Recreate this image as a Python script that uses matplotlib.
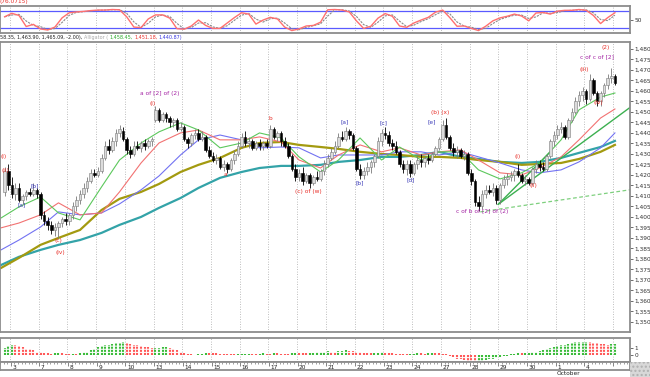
import numpy as np
import matplotlib
matplotlib.use('Agg')
import matplotlib.pyplot as plt
from matplotlib.patches import Rectangle

plt.rcParams['font.family'] = 'DejaVu Sans'

# hourly bars, 8 per session; the first two bars close the previous session
first_bar = -2
opens = [1412, 1422,
         1415, 1411, 1414, 1408, 1410, 1412, 1411, 1413,
         1411, 1401, 1398, 1396, 1394, 1395, 1397, 1399,
         1398, 1401, 1405, 1408, 1411, 1414, 1417, 1421,
         1420, 1422, 1428, 1434, 1432, 1436, 1440, 1441,
         1437, 1432, 1430, 1434, 1433, 1435, 1434, 1436,
         1446, 1451, 1446, 1449, 1447, 1445, 1446, 1442,
         1443, 1437, 1435, 1439, 1440, 1437, 1438, 1432,
         1429, 1427, 1428, 1424, 1425, 1423, 1427, 1430,
         1434, 1438, 1435, 1436, 1433, 1435, 1434, 1435,
         1434, 1442, 1438, 1440, 1436, 1434, 1429, 1423,
         1419, 1421, 1417, 1420, 1416, 1419, 1418, 1422,
         1425, 1428, 1431, 1434, 1438, 1437, 1441, 1439,
         1433, 1423, 1420, 1422, 1424, 1426, 1429, 1436,
         1440, 1439, 1435, 1434, 1431, 1425, 1423, 1425,
         1421, 1425, 1427, 1426, 1428, 1427, 1430, 1433,
         1437, 1444, 1438, 1433, 1431, 1432, 1429, 1430,
         1421, 1417, 1407, 1405, 1411, 1413, 1412, 1414,
         1408, 1415, 1418, 1419, 1420, 1422, 1420, 1417,
         1418, 1416, 1423, 1425, 1424, 1423, 1429, 1436,
         1439, 1442, 1443, 1438, 1446, 1450, 1455, 1458,
         1460, 1456, 1465, 1459, 1455, 1459, 1463, 1466,
         1467]
highs = [1424, 1425,
         1419, 1416, 1416, 1411, 1413, 1414, 1416, 1414,
         1412, 1403, 1400, 1398, 1397, 1398, 1400, 1402,
         1402, 1407, 1410, 1413, 1416, 1419, 1423, 1423,
         1424, 1430, 1436, 1437, 1438, 1442, 1444, 1443,
         1438, 1434, 1436, 1436, 1436, 1437, 1437, 1438,
         1453, 1452, 1450, 1450, 1448, 1447, 1447, 1445,
         1444, 1438, 1440, 1442, 1442, 1441, 1439, 1434,
         1431, 1430, 1429, 1427, 1426, 1428, 1432, 1436,
         1440, 1441, 1438, 1437, 1436, 1437, 1436, 1437,
         1444, 1443, 1441, 1441, 1438, 1435, 1430, 1425,
         1423, 1424, 1421, 1421, 1420, 1422, 1423, 1427,
         1430, 1433, 1436, 1440, 1441, 1443, 1442, 1440,
         1434, 1425, 1424, 1426, 1427, 1430, 1438, 1442,
         1443, 1441, 1437, 1436, 1432, 1427, 1427, 1427,
         1426, 1429, 1430, 1429, 1430, 1431, 1434, 1438,
         1446, 1447, 1439, 1435, 1434, 1433, 1432, 1431,
         1423, 1418, 1410, 1413, 1415, 1415, 1416, 1415,
         1416, 1420, 1421, 1422, 1423, 1425, 1421, 1420,
         1419, 1424, 1427, 1427, 1426, 1430, 1437, 1441,
         1444, 1445, 1444, 1447, 1452, 1457, 1460, 1462,
         1461, 1468, 1466, 1460, 1460, 1464, 1468, 1471,
         1468]
lows = [1410, 1413,
        1409, 1408, 1407, 1406, 1408, 1410, 1410, 1409,
        1399, 1396, 1394, 1392, 1391, 1390, 1395, 1396,
        1396, 1399, 1403, 1406, 1409, 1412, 1416, 1419,
        1419, 1421, 1427, 1430, 1431, 1434, 1438, 1436,
        1430, 1428, 1429, 1432, 1431, 1432, 1433, 1434,
        1445, 1445, 1445, 1445, 1443, 1443, 1441, 1441,
        1436, 1433, 1434, 1437, 1436, 1436, 1431, 1428,
        1426, 1425, 1423, 1422, 1421, 1422, 1425, 1429,
        1433, 1434, 1433, 1432, 1432, 1432, 1432, 1433,
        1433, 1437, 1436, 1434, 1433, 1428, 1422, 1417,
        1417, 1415, 1416, 1414, 1415, 1417, 1417, 1420,
        1424, 1427, 1430, 1433, 1436, 1436, 1437, 1432,
        1422, 1418, 1418, 1420, 1421, 1424, 1428, 1434,
        1437, 1434, 1432, 1430, 1424, 1421, 1420, 1419,
        1420, 1423, 1424, 1424, 1425, 1426, 1429, 1432,
        1436, 1437, 1432, 1429, 1428, 1428, 1427, 1420,
        1415, 1405, 1403, 1404, 1409, 1411, 1410, 1406,
        1406, 1414, 1415, 1417, 1417, 1419, 1416, 1415,
        1415, 1415, 1421, 1422, 1422, 1422, 1428, 1434,
        1437, 1440, 1437, 1437, 1445, 1449, 1453, 1455,
        1454, 1455, 1458, 1453, 1453, 1457, 1461, 1464,
        1463]
closes = [1422, 1415,
          1411, 1414, 1408, 1410, 1412, 1411, 1413, 1411,
          1401, 1398, 1396, 1394, 1395, 1397, 1399, 1398,
          1401, 1405, 1408, 1411, 1414, 1417, 1421, 1420,
          1422, 1428, 1434, 1432, 1436, 1440, 1442, 1437,
          1432, 1430, 1434, 1433, 1435, 1434, 1436, 1437,
          1451, 1446, 1449, 1447, 1445, 1446, 1442, 1443,
          1437, 1435, 1439, 1440, 1437, 1438, 1432, 1429,
          1427, 1428, 1424, 1425, 1423, 1427, 1430, 1434,
          1438, 1435, 1436, 1433, 1435, 1434, 1435, 1434,
          1442, 1438, 1440, 1436, 1434, 1429, 1423, 1419,
          1421, 1417, 1420, 1416, 1419, 1418, 1422, 1425,
          1428, 1431, 1434, 1438, 1437, 1441, 1439, 1433,
          1423, 1420, 1422, 1424, 1426, 1429, 1436, 1440,
          1439, 1435, 1434, 1431, 1425, 1423, 1425, 1421,
          1425, 1427, 1426, 1428, 1427, 1430, 1433, 1437,
          1444, 1438, 1433, 1431, 1432, 1429, 1430, 1421,
          1417, 1407, 1405, 1411, 1413, 1412, 1414, 1408,
          1415, 1418, 1419, 1420, 1422, 1420, 1417, 1418,
          1416, 1423, 1425, 1424, 1423, 1429, 1436, 1439,
          1442, 1443, 1438, 1446, 1450, 1455, 1458, 1460,
          1456, 1465, 1459, 1455, 1459, 1463, 1466, 1467,
          1464]

# moving averages at these bar positions
ma_bars = [-3, 2, 8, 13, 19, 25, 30, 36, 41, 47, 52, 58, 64, 69, 75, 80,
           86, 91, 97, 103, 108, 114, 119, 125, 130, 136, 142, 147, 153, 158, 164, 168]
ma_teal = [1377.1, 1381.0, 1384.3, 1386.7, 1389.0, 1392.4, 1396.2, 1400.0, 1404.3, 1409.0,
           1413.8, 1418.6, 1421.4, 1423.3, 1424.3, 1424.3, 1424.8, 1426.2, 1427.1, 1428.6,
           1428.6, 1429.5, 1431.0, 1428.6, 1427.6, 1426.2, 1425.7, 1426.2, 1428.1, 1430.5,
           1433.3, 1436.2]
ma_olive = [1375.7, 1380.5, 1386.7, 1390.0, 1393.8, 1403.3, 1408.6, 1411.9, 1415.7, 1421.4,
            1424.8, 1428.1, 1432.9, 1435.2, 1435.7, 1434.3, 1433.3, 1432.4, 1431.0, 1430.0,
            1429.5, 1428.6, 1428.6, 1428.1, 1427.1, 1426.2, 1424.8, 1425.2, 1425.7, 1427.6,
            1431.0, 1434.3]
jaw = [1384.3, 1389.0, 1395.2, 1402.4, 1401.0, 1401.9, 1406.2, 1412.9, 1419.5, 1429.5,
       1436.7, 1439.0, 1436.7, 1432.9, 1433.3, 1432.9, 1428.1, 1429.5, 1429.5, 1429.5,
       1431.0, 1431.0, 1429.5, 1431.0, 1428.6, 1425.7, 1422.4, 1421.0, 1422.4, 1426.2,
       1432.9, 1440.0]
teeth = [1394.8, 1397.1, 1401.0, 1406.7, 1401.0, 1401.9, 1411.9, 1425.7, 1435.2, 1440.0,
         1441.4, 1436.7, 1436.7, 1438.1, 1435.7, 1427.1, 1423.3, 1429.5, 1434.3, 1431.0,
         1432.9, 1429.5, 1431.0, 1431.9, 1427.1, 1421.0, 1420.0, 1423.3, 1428.6, 1436.7,
         1447.1, 1451.4]
lips = [1399.5, 1404.8, 1409.5, 1401.9, 1398.6, 1414.3, 1427.1, 1435.2, 1440.5, 1444.8,
        1441.4, 1432.9, 1435.2, 1440.0, 1437.6, 1428.6, 1421.4, 1427.1, 1437.6, 1427.1,
        1433.3, 1427.1, 1431.0, 1431.0, 1422.4, 1418.1, 1421.0, 1425.7, 1436.7, 1451.0,
        1457.1, 1459.0]

# trend lines (bar, price)
trend_a = ([135.5, 172.5], [1406.0, 1452.5])
trend_b = ([135.5, 150.0], [1406.0, 1431.0])
trend_dash = ([130.5, 172.5], [1402.4, 1413.0])

# stochastic %K every second bar
stoch_bars = list(range(-2, 170, 2))
stoch_k = [60, 73, 65, 24, 32, 15, 11, 22, 56, 75, 78, 80, 83, 85, 85, 87, 86,
           60, 22, 20, 52, 67, 67, 55, 16, 14, 26, 48, 28, 17, 17, 37, 57, 75,
           70, 33, 48, 58, 52, 22, 9, 15, 26, 28, 40, 86, 87, 85, 78, 45, 17,
           25, 55, 72, 62, 26, 21, 37, 48, 58, 77, 85, 57, 25, 26, 17, 9, 25,
           45, 56, 62, 70, 63, 45, 74, 76, 70, 81, 84, 84, 87, 84, 65, 35, 57, 75]

# oscillator histogram, one value per bar
osc = [0.95, 1.3,
       1.4, 1.38, 1.3, 1.1, 0.9, 0.8, 0.7, 0.5,
       0.4, 0.3, 0.25, 0.2, 0.3, 0.35, 0.25, 0.2,
       0.15, 0.2, 0.1, 0.3, 0.4, 0.5, 0.7, 0.9,
       1.1, 1.3, 1.4, 1.5, 1.6, 1.7, 1.75, 1.8,
       1.7, 1.6, 1.5, 1.4, 1.3, 1.2, 1.1, 1.0,
       1.02, 1.05, 1.1, 1.12, 1.05, 0.9, 0.7, 0.5,
       0.35, 0.2, 0.1, 0.05, 0.08, 0.12, 0.3, 0.28,
       0.25, 0.22, 0.2, 0.18, 0.15, 0.12, 0.1, 0.12,
       0.15, 0.17, 0.2, 0.18, 0.15, 0.2, 0.22, 0.2,
       0.18, 0.25, 0.22, 0.2, 0.18, 0.16, 0.25, 0.3,
       0.28, 0.26, 0.24, 0.3, 0.35, 0.4, 0.45, 0.5,
       0.55, 0.5, 0.45, 0.55, 0.6, 0.65, 0.6, 0.55,
       0.45, 0.4, 0.35, 0.3, 0.25, 0.3, 0.35, 0.4,
       0.35, 0.3, 0.25, 0.2, 0.15, 0.12, 0.1, 0.15,
       0.2, 0.25, 0.22, 0.2, 0.25, 0.3, 0.28, 0.25,
       0.2, 0.15, -0.1, -0.3, -0.5, -0.6, -0.7, -0.8,
       -0.85, -0.9, -0.88, -0.8, -0.7, -0.6, -0.5, -0.4,
       -0.3, -0.2, -0.1, 0.15, 0.2, 0.25, 0.22, 0.25,
       0.3, 0.4, 0.5, 0.6, 0.7, 0.8, 0.95, 1.1,
       1.25, 1.4, 1.5, 1.6, 1.7, 1.8, 1.85, 1.9,
       1.92, 1.85, 1.75, 1.65, 1.6, 1.55, 1.5, 1.55,
       1.6]

day_labels = ['3', '7', '8', '9', '10', '13', '14', '15', '16', '17', '20',
              '21', '22', '23', '24', '27', '28', '29', '30', '1', '4', '']

# wave counts: (text, bar, price, colour)
RED, BLUE, PURPLE = '#e8302a', '#3a3ab8', '#a424a4'
waves = [('(i)', -2.4, 1428.6, RED), ('(ii)', -1.9, 1422.0, RED),
         ('[a]', 2.8, 1405.7, BLUE), ('[b]', 6.5, 1414.8, BLUE),
         ('(c)', 12.9, 1388.6, RED), ('(iv)', 13.4, 1382.9, RED),
         ('(i)', 39.3, 1453.8, RED), ('a of [2] of (2)', 41.3, 1459.0, PURPLE),
         ('a', 59.4, 1420.0, RED), ('b', 71.9, 1446.7, RED),
         ('(c) of (w)', 82.5, 1411.9, RED),
         ('[a]', 92.8, 1445.2, BLUE), ('[b]', 97.0, 1416.2, BLUE),
         ('[c]', 103.4, 1444.8, BLUE), ('[d]', 111.0, 1417.6, BLUE),
         ('[e]', 117.1, 1445.2, BLUE), ('(b) (x)', 119.3, 1449.5, RED),
         ('c of b of [2] of (2)', 131.0, 1402.4, PURPLE),
         ('(i)', 140.8, 1429.0, RED), ('(ii)', 145.2, 1414.8, RED),
         ('(iii)', 159.4, 1470.0, RED), ('(iv)', 163.3, 1454.3, RED),
         ('(2)', 165.3, 1480.5, RED), ('c of c of [2]', 163.0, 1476.2, PURPLE)]

header_parts = [('58.35, 1,463.90, 1,465.09, -2.00),', '#222222'),
                ('Alligator (', '#a8a8a8'),
                ('1,458.45,', '#2caa2c'),
                ('1,451.18,', RED),
                ('1,440.87)', '#3a3ae0')]

W, H = 650, 377
fig = plt.figure(figsize=(W / 100, H / 100), dpi=100)
fig.patch.set_facecolor('white')


def box(x0, y0, x1, y1):
    return [x0 / W, 1 - y1 / H, (x1 - x0) / W, (y1 - y0) / H]


ax_st = fig.add_axes(box(0, 6, 630, 33))
ax = fig.add_axes(box(0, 42, 630, 332))
ax_h = fig.add_axes(box(0, 338, 630, 362))
ax_d = fig.add_axes(box(0, 362, 630, 370))

xlim = (-3.29, 172.2)
grid_x = [8 * k - 0.5 for k in range(22)]
FS = 4.2

for a in (ax_st, ax, ax_h, ax_d):
    a.set_xlim(*xlim)
    for s in a.spines.values():
        s.set_color('#8c8c8c')
        s.set_linestyle((0, (1, 1)))
        s.set_linewidth(1.3)
    a.set_xticks([])
    a.tick_params(axis='y', labelsize=FS, length=2, width=0.5, pad=1, colors='#333333')
    a.yaxis.tick_right()
    if a is not ax_d:
        for gx in grid_x:
            a.axvline(gx, color='#a8a8a8', lw=0.6, ls=(0, (1, 2)), zorder=0)

# stochastic panel
ax_st.set_ylim(0, 100)
ax_st.axhline(80, color='#5a5aff', lw=0.9)
ax_st.axhline(20, color='#5a5aff', lw=0.9)
sx = np.array(stoch_bars, dtype=float)
sk = np.array(stoch_k, dtype=float)
sd = np.convolve(sk, [0.5, 0.5], mode='full')[:len(sk)]
sd[0] = sk[0]
ax_st.plot(sx, sd, color='#8a8a8a', lw=0.8, ls=(0, (2, 1)))
ax_st.plot(sx, sk, color='#ff7070', lw=1.0)
ax_st.set_yticks([50])
ax_st.set_yticklabels(['50'])

# price panel
o = np.array(opens, float)
hi = np.array(highs, float)
lo = np.array(lows, float)
c = np.array(closes, float)
bx = np.arange(len(c)) + first_bar
up = c >= o
ax.vlines(bx, lo, hi, colors=np.where(up, '#7a7a7a', '#000000'), lw=0.6, zorder=3)
body = np.maximum(np.abs(c - o), 0.4)
ax.bar(bx, body, bottom=np.minimum(o, c), width=0.72,
       color=np.where(up, '#dcdcdc', '#000000'),
       edgecolor=np.where(up, '#7a7a7a', '#000000'), lw=0.4, zorder=4)

mx = np.array(ma_bars, float)
ax.plot(mx, ma_teal, color='#33a3a8', lw=1.6, zorder=2)
ax.plot(mx, ma_olive, color='#a39a10', lw=1.6, zorder=2)
ax.plot(mx, jaw, color='#7272f2', lw=0.8, zorder=2)
ax.plot(mx, teeth, color='#f27272', lw=0.8, zorder=2)
ax.plot(mx, lips, color='#5cc85c', lw=0.8, zorder=2)

ax.plot(*trend_a, color='#3cb050', lw=1.0, zorder=2)
ax.plot(*trend_b, color='#3cb050', lw=1.0, zorder=2)
ax.plot(*trend_dash, color='#7fd07f', lw=0.9, ls=(0, (3, 2)), zorder=2)

for txt, xb, yp, col in waves:
    ax.text(xb, yp, txt, color=col, fontsize=FS, ha='center', va='center', zorder=6)

ax.set_ylim(1345.2, 1483.3)
yt = np.arange(1350, 1481, 5)
ax.set_yticks(yt)
ax.set_yticklabels([f'{v:,.0f}' for v in yt])

# oscillator histogram
ax_h.set_ylim(-1.0, 2.43)
hv = np.array(osc, float)
rising = np.concatenate([[True], np.diff(hv) >= 0])
ax_h.vlines(bx, 0, hv, colors=np.where(rising, '#3cbc3c', '#ff5a5a'),
            lw=1.5, linestyles=(0, (1, 0.5)))
ax_h.set_yticks([0, 1])
ax_h.set_yticklabels(['0', '1'])

# date strip
ax_d.set_ylim(0, 1)
ax_d.set_yticks([])
ax_d.set_xticks(grid_x)
ax_d.set_xticks(np.arange(-3, 173) - 0.5, minor=True)
ax_d.tick_params(axis='x', which='major', direction='in', length=3, width=0.5,
                 top=True, bottom=False, labelbottom=False, colors='#555555')
ax_d.tick_params(axis='x', which='minor', direction='in', length=1.5, width=0.4,
                 top=True, bottom=False, colors='#555555')
for gx, lab in zip(grid_x, day_labels):
    ax_d.text(gx + 0.4, 0.35, lab, fontsize=FS, ha='left', va='center', color='#222222')
ax_d.text(grid_x[19] + 0.3, -0.45, 'October', fontsize=FS, ha='left', va='center',
          color='#222222', clip_on=False)

# headers
fig.text(0.0, 1 - 2 / H, '(76.0715)', color=RED, fontsize=FS, ha='left', va='center')
renderer = fig.canvas.get_renderer()
hx = 0.0
for txt, col in header_parts:
    t = fig.text(hx, 1 - 37.5 / H, txt, color=col, fontsize=3.5, ha='left', va='center')
    hx += t.get_window_extent(renderer).width / W + 1.5 / W

# corner hatch
fig.patches.append(Rectangle((630 / W, 0), 20 / W, 15 / H, transform=fig.transFigure,
                             facecolor='#d8d8d8', edgecolor='#b0b0b0', hatch='....', lw=0))

fig.savefig('out.png', dpi=100, facecolor='white')
